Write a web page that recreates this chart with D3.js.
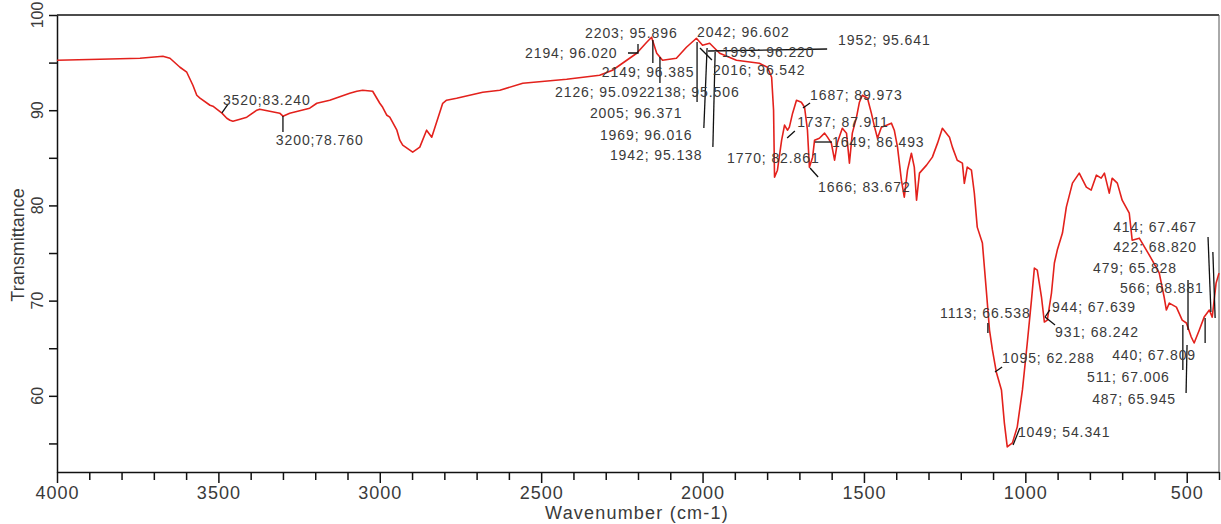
<!DOCTYPE html>
<html>
<head>
<meta charset="utf-8">
<script src="https://cdn.jsdelivr.net/npm/d3@7"></script>
<style>
  body { margin: 0; background: #fff; }
  text { font-family: "Liberation Sans", Arial, sans-serif; fill: #3a3a3a; }
</style>
</head>
<body>
<div id="chart1"></div>
<script>
// spectrum (wavenumber cm-1, transmittance %)
var wavenumber = [4000,3867,3743,3672,3650,3619,3598,3579,3567,3557,3526,3517,3489,3474,3464,3455,3433,3412,3381,3372,3341,3310,3300,3279,3217,3195,3155,3093,3071,3053,3022,3000,2991,2978,2969,2947,2938,2929,2898,2876,2855,2839,2805,2793,2762,2681,2628,2557,2421,2319,2279,2204,2173,2158,2142,2124,2081,2050,2019,2000,1978,1947,1895,1824,1799,1786,1780,1777,1768,1755,1746,1737,1731,1721,1709,1694,1684,1675,1669,1659,1653,1638,1622,1613,1601,1591,1582,1567,1554,1545,1536,1523,1514,1505,1489,1477,1467,1458,1446,1430,1415,1406,1396,1384,1375,1365,1353,1344,1337,1328,1306,1288,1272,1257,1235,1226,1211,1195,1189,1180,1167,1158,1149,1133,1121,1111,1102,1090,1074,1065,1056,1040,1025,1009,994,981,972,963,950,941,932,919,910,901,885,873,854,833,811,796,780,765,755,740,731,715,700,678,669,647,625,607,585,570,563,554,532,514,501,486,477,461,446,430,421,409,400];
var transmittance = [95.25,95.35,95.46,95.67,95.46,94.51,93.99,92.62,91.57,91.26,90.52,90.42,89.69,89.16,88.95,88.85,89.06,89.27,90.0,90.11,89.9,89.69,89.37,89.69,90.21,90.73,91.05,91.78,91.99,92.09,91.99,90.73,90.31,89.47,89.27,87.9,86.85,86.33,85.59,86.12,87.9,87.17,90.73,91.05,91.26,91.89,92.1,92.83,93.25,93.67,94.2,95.98,97.14,97.66,95.98,95.25,95.46,96.61,97.56,96.82,97.03,95.98,95.25,94.93,94.51,93.46,90.0,82.97,83.7,86.85,88.43,87.9,88.22,89.69,91.05,90.84,90.31,87.9,84.02,85.07,86.85,87.06,87.59,87.17,86.54,84.75,86.64,88.11,87.59,84.44,87.59,89.27,90.84,91.57,91.26,89.69,88.22,87.06,88.22,88.43,88.64,87.9,86.12,82.65,80.87,83.7,85.48,84.02,80.55,83.39,84.23,85.07,86.54,88.11,87.17,86.12,84.75,84.44,82.32,84.02,83.7,81.29,77.72,76.04,71.11,66.91,64.82,62.51,60.62,57.16,54.64,55.06,56.74,60.62,65.55,70.06,73.42,73.21,70.38,67.75,67.96,70.8,73.95,75.31,77.1,79.82,82.34,83.39,81.92,81.61,83.18,82.86,83.39,81.29,82.86,82.34,80.55,79.18,76.35,76.56,75.31,74.26,72.89,70.38,69.01,69.74,69.32,67.96,67.65,66.18,65.55,66.91,68.27,69.01,68.27,71.84,72.89];

var xTickLabels = [4000, 3500, 3000, 2500, 2000, 1500, 1000, 500];
var yTickLabels = [60, 70, 80, 90, 100];

// peak labels, where their text sits (wavenumber, transmittance)
var peakLabels = ["3520;83.240","3200;78.760","2203; 95.896","2194; 96.020","2149; 96.385","2126; 95.092","2138; 95.506","2042; 96.602","1993; 96.220","1952; 95.641","2016; 96.542","2005; 96.371","1969; 96.016","1942; 95.138","1770; 82.861","1687; 89.973","1737; 87.911","1649; 86.493","1666; 83.672","1113; 66.538","1095; 62.288","1049; 54.341","944; 67.639","931; 68.242","414; 67.467","422; 68.820","479; 65.828","566; 68.881","440; 67.809","511; 67.006","487; 65.945"];
var labelWn = [3486,3322,2364,2550,2312,2457,2172,2017,1940,1580,1968,2349,2318,2287,1924,1667,1707,1599,1642,1264,1072,1023,917,908,728,728,790,707,731,809,793];
var labelT = [90.55,86.35,97.58,95.48,93.49,91.39,91.39,97.69,95.59,96.85,93.7,89.18,86.87,84.77,84.46,91.07,88.24,86.14,81.41,68.18,63.45,55.68,68.81,66.18,77.21,75.11,72.9,70.8,63.76,61.45,59.14];

// leader lines from peaks to labels, [wn, T] points
var leaders = [
    [[3489,89.71],[3470,90.65]],
    [[3300,89.39],[3300,87.71]],
    [[2231,96.01],[2200,96.01],[2200,96.95]],
    [[2154,97.37],[2154,94.96]],
    [[2132,95.59],[2132,92.86]],
    [[2017,97.16],[2017,90.86]],
    [[1986,96.53],[1996,88.13]],
    [[1961,96.11],[1968,86.14]],
    [[2008,96.53],[1971,95.27]],
    [[1983,96.22],[1614,96.43]],
    [[1689,90.23],[1667,90.76]],
    [[1738,87.08],[1714,87.82]],
    [[1652,86.66],[1599,86.66]],
    [[1667,83.93],[1642,82.99]],
    [[1116,67.65],[1116,66.6]],
    [[1094,62.5],[1072,63.03]],
    [[1038,54.84],[1017,56.62]],
    [[939,68.28],[924,69.02]],
    [[939,68.28],[908,67.44]],
    [[434,76.68],[425,68.81]],
    [[419,75.11],[412,68.18]],
    [[496,72.17],[496,66.92]],
    [[499,65.34],[502,60.3]],
    [[512,67.44],[512,62.71]],
    [[443,68.18],[443,65.55]]
];

function init(){
    var w = 1221;
    var h = 524;
    var margin = { top: 15, right: 2, bottom: 52, left: 57 };
    var width = w - margin.left - margin.right;
    var height = h - margin.top - margin.bottom;

    var data = wavenumber.map(function(d, i) {
        return { wn: d, t: transmittance[i] };
    });

    var svg = d3.select("#chart1")
        .append("svg")
        .attr("width", w)
        .attr("height", h)
        .append("g")
        .attr("transform", `translate(${margin.left}, ${margin.top})`);

    var xScale = d3.scaleLinear()
        .domain([4000, 400])
        .range([0, width]);

    var yScale = d3.scaleLinear()
        .domain([52, 100])
        .range([height, 0]);

    // frame, top and right
    svg.append("line")
        .attr("x1", 0).attr("x2", width)
        .attr("y1", 0).attr("y2", 0)
        .attr("stroke", "#111").attr("stroke-width", 1.5);
    svg.append("line")
        .attr("x1", width).attr("x2", width)
        .attr("y1", 0).attr("y2", height)
        .attr("stroke", "#555").attr("stroke-width", 1);

    // X axis, minor tick every 100
    var xAxis = svg.append("g")
        .attr("transform", `translate(0,${height})`)
        .call(d3.axisBottom(xScale)
            .tickValues(d3.range(4000, 399, -100))
            .tickSize(8)
            .tickSizeOuter(0)
            .tickFormat(d => xTickLabels.indexOf(d) >= 0 ? d : ""));
    xAxis.select(".domain").attr("stroke", "#111").attr("stroke-width", 1.5);
    xAxis.selectAll(".tick line")
        .attr("stroke", "#111").attr("stroke-width", 1.5)
        .attr("y2", d => xTickLabels.indexOf(d) >= 0 ? 11 : 8);
    xAxis.selectAll(".tick text")
        .attr("y", 14)
        .style("font-size", "18px")
        .style("letter-spacing", "1px")
        .style("fill", "#3a3a3a");

    // Y axis, minor tick every 5
    var yAxis = svg.append("g")
        .call(d3.axisLeft(yScale)
            .tickValues(d3.range(55, 101, 5))
            .tickSize(8)
            .tickSizeOuter(0)
            .tickFormat(""));
    yAxis.select(".domain").attr("stroke", "#111").attr("stroke-width", 1.5);
    yAxis.selectAll(".tick line").attr("stroke", "#111").attr("stroke-width", 1.5);

    svg.selectAll(".ylab")
        .data(yTickLabels)
        .enter()
        .append("text")
        .attr("class", "ylab")
        .attr("text-anchor", "middle")
        .attr("dy", "0.35em")
        .attr("transform", d => `translate(-20,${yScale(d)}) rotate(-90)`)
        .style("font-size", "16px")
        .text(d => d);

    // spectrum
    var line = d3.line()
        .x(d => xScale(d.wn))
        .y(d => yScale(d.t));

    svg.append("path")
        .datum(data)
        .attr("fill", "none")
        .attr("stroke", "#e3211c")
        .attr("stroke-width", 1.6)
        .attr("stroke-linejoin", "round")
        .attr("d", line);

    // leader lines
    var leaderLine = d3.line()
        .x(d => xScale(d[0]))
        .y(d => yScale(d[1]));

    svg.selectAll(".leader")
        .data(leaders)
        .enter()
        .append("path")
        .attr("class", "leader")
        .attr("fill", "none")
        .attr("stroke", "#111")
        .attr("stroke-width", 1.3)
        .attr("d", leaderLine);

    // peak labels
    svg.selectAll(".peak")
        .data(peakLabels)
        .enter()
        .append("text")
        .attr("class", "peak")
        .attr("x", (d, i) => xScale(labelWn[i]))
        .attr("y", (d, i) => yScale(labelT[i]))
        .style("font-size", "14px")
        .style("letter-spacing", "0.9px")
        .text(d => d);

    // X Axis Label
    svg.append("text")
        .attr("text-anchor", "middle")
        .attr("x", 580)
        .attr("y", height + 47)
        .style("font-size", "18px")
        .style("letter-spacing", "1.2px")
        .text("Wavenumber (cm-1)");

    // Y Axis Label
    svg.append("text")
        .attr("text-anchor", "middle")
        .attr("transform", "rotate(-90)")
        .attr("x", -230)
        .attr("y", -33)
        .style("font-size", "18px")
        .text("Transmittance");
}

window.onload = init;
</script>
</body>
</html>
